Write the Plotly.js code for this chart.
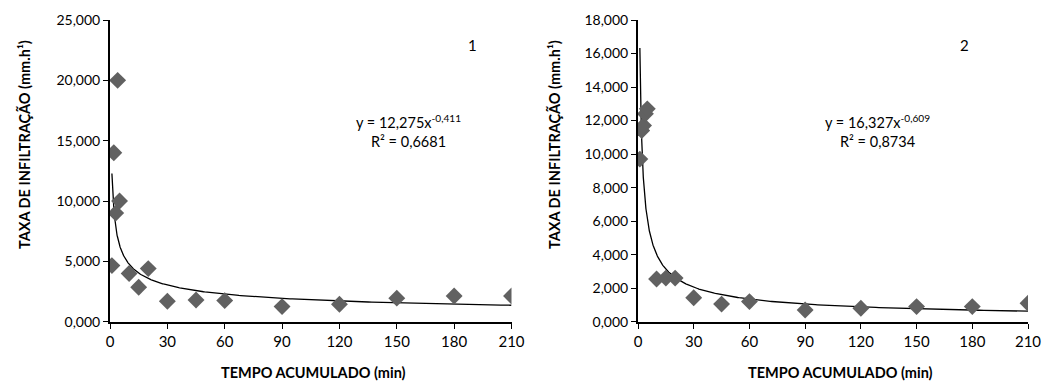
<!DOCTYPE html>
<html>
<head>
<meta charset="utf-8">
<script src="https://cdn.plot.ly/plotly-3.0.1.min.js"></script>
<style>html,body{margin:0;padding:0;background:#fff;}#chart{width:1042px;height:385px;}</style>
</head>
<body>
<div id="chart"></div>
<script>
// Data (time in min, infiltration rate in mm/h)
const tempo = [1, 2, 3, 4, 5, 10, 15, 20, 30, 45, 60, 90, 120, 150, 180, 210];
const taxa1 = [4.65, 14.0, 9.0, 20.0, 10.0, 4.0, 2.85, 4.4, 1.7, 1.8, 1.75, 1.25, 1.45, 1.95, 2.13, 2.13];
const taxa2 = [9.7, 11.4, 11.7, 12.4, 12.7, 2.55, 2.6, 2.6, 1.43, 1.05, 1.2, 0.7, 0.8, 0.9, 0.9, 1.1];
// Power trendline coefficients as shown on the chart
const fit1 = {a: 12.275, b: -0.411, eq: "y = 12,275x<sup>-0,411</sup><br>R² = 0,6681", label: "1"};
const fit2 = {a: 16.327, b: -0.609, eq: "y = 16,327x<sup>-0,609</sup><br>R² = 0,8734", label: "2"};
const xTicks = [0, 30, 60, 90, 120, 150, 180, 210];
const xTitle = "TEMPO ACUMULADO (min)";
const yTitle = "TAXA DE INFILTRAÇÃO (mm.h¹)";

const W = 1042, H = 385;
const px = x => x / W;
const py = y => 1 - y / H;

function trend(f) {
  const xs = [], ys = [];
  const tmin = Math.min(...tempo), tmax = Math.max(...tempo);
  for (let i = 0; i <= 400; i++) {
    const t = tmin * Math.pow(tmax / tmin, i / 400);
    xs.push(t); ys.push(f.a * Math.pow(t, f.b));
  }
  return {xs, ys};
}
const tr1 = trend(fit1), tr2 = trend(fit2);
const mcol = '#616161';
const font = 'Lato, "Open Sans", sans-serif';

const data = [
  {x: tr1.xs, y: tr1.ys, mode: 'lines', line: {color: '#000', width: 1.3}, xaxis: 'x', yaxis: 'y', hoverinfo: 'skip'},
  {x: tempo, y: taxa1, mode: 'markers', marker: {symbol: 'diamond', size: 13, color: mcol}, xaxis: 'x', yaxis: 'y'},
  {x: tr2.xs, y: tr2.ys, mode: 'lines', line: {color: '#000', width: 1.3}, xaxis: 'x2', yaxis: 'y2', hoverinfo: 'skip'},
  {x: tempo, y: taxa2, mode: 'markers', marker: {symbol: 'diamond', size: 13, color: mcol}, xaxis: 'x2', yaxis: 'y2'}
];

const xa = (dom, anchor) => ({
  domain: dom, anchor: anchor, range: [0, 210], tickvals: xTicks, showgrid: false, zeroline: false,
  showline: true, linecolor: '#000', linewidth: 2, ticks: 'outside', ticklen: 5, tickwidth: 1, tickcolor: '#000',
  tickfont: {family: font, size: 15, color: '#000'}, fixedrange: true
});
const ya = (dom, anchor, max, dt) => ({
  domain: dom, anchor: anchor, range: [0, max], dtick: dt, tick0: 0, tickformat: '.3f', showgrid: false, zeroline: false,
  showline: true, linecolor: '#000', linewidth: 2, ticks: 'outside', ticklen: 5, tickwidth: 1, tickcolor: '#000',
  tickfont: {family: font, size: 14, color: '#000'}, fixedrange: true
});
const yDom = [py(321.7), py(20)];

const ann = (text, x, y, opts) => Object.assign({text, x: px(x), y: py(y), xref: 'paper', yref: 'paper', showarrow: false,
  xanchor: 'center', yanchor: 'middle', font: {family: font, size: 14, color: '#000'}}, opts || {});
const bold = {family: font, size: 14.5, color: '#000', weight: 'bold'};

const layout = {
  width: W, height: H, margin: {l: 0, r: 0, t: 0, b: 0}, paper_bgcolor: '#fff', plot_bgcolor: '#fff',
  showlegend: false, separators: ',.',
  xaxis: xa([px(110), px(511.5)], 'y'),
  yaxis: ya(yDom, 'x', 25, 5),
  xaxis2: xa([px(638), px(1028)], 'y2'),
  yaxis2: ya(yDom, 'x2', 18, 2),
  annotations: [
    ann(xTitle, 313, 372, {font: bold}),
    ann(xTitle, 840, 372, {font: bold}),
    ann(yTitle, 24, 145, {textangle: -90, font: bold}),
    ann(yTitle, 554, 145, {textangle: -90, font: bold}),
    ann(fit1.eq, 408, 131, {align: 'center', font: {family: font, size: 14.5, color: '#000'}}),
    ann(fit2.eq, 877, 131, {align: 'center', font: {family: font, size: 14.5, color: '#000'}}),
    ann(fit1.label, 472, 45, {font: {family: font, size: 15, color: '#000'}}),
    ann(fit2.label, 964, 45, {font: {family: font, size: 15, color: '#000'}})
  ]
};
Plotly.newPlot('chart', data, layout, {displayModeBar: false, staticPlot: true});
</script>
</body>
</html>
